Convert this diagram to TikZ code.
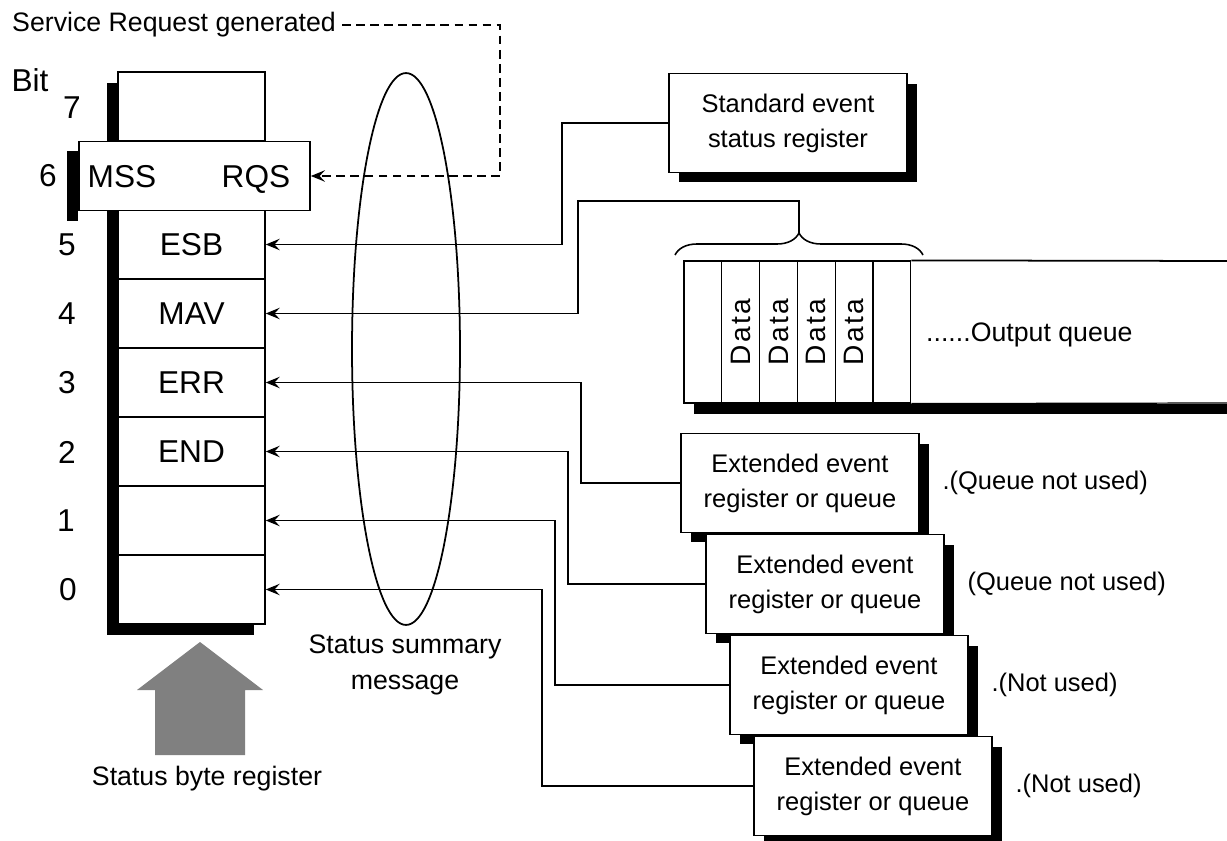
\documentclass[tikz,border=0pt]{standalone}
\usepackage{fontspec}
\setmainfont{Liberation Sans}
\usetikzlibrary{shapes.geometric,shadows,arrows.meta,decorations.pathreplacing,positioning}
\newcommand{\datatxt}{\rotatebox{90}{D\kern1.5pt a\kern1.5pt t\kern1.5pt a}}

\begin{document}
\begin{tikzpicture}[x=0.02cm, y=-0.02cm,
		>={Stealth[length=8pt, width=6.5pt, inset=3pt]},
		every node/.style={font=\fontsize{14.5}{20}\selectfont},
		big/.style={font=\fontsize{18}{22}\selectfont},
		lbl/.style={font=\fontsize{15.2}{20}\selectfont},
		sig/.style={->, line width=0.9pt},
		bitcell/.style={draw, line width=0.8pt, minimum width=2.94cm, minimum height=1.38cm, inner sep=0pt, big},
		regbox/.style={draw, fill=white, line width=1pt, align=center, minimum width=4.76cm, minimum height=1.98cm, general shadow={fill=black, shadow xshift=0.2cm, shadow yshift=-0.2cm}},
		qcell/.style={draw, line width=0.7pt, minimum width=0.756cm, minimum height=2.84cm, inner sep=0pt, font=\fontsize{16}{18}\selectfont}]
			\useasboundingbox (0,0) rectangle (1227,841);
			
			\node[draw, fill=white, line width=1pt, minimum width=2.94cm, minimum height=11.04cm, inner sep=0pt, general shadow={fill=black, shadow xshift=-0.22cm, shadow yshift=-0.22cm}] (sbr) at (191.5,348) {};
			\node[bitcell] (b7) at (191.5,106.5) {};
			\node[bitcell] (b5) at (191.5,244.5) {ESB};
			\node[bitcell] (b4) at (191.5,313.5) {MAV};
			\node[bitcell] (b3) at (191.5,382.5) {ERR};
			\node[bitcell] (b2) at (191.5,451.5) {END};
			\node[bitcell] (b1) at (191.5,520.5) {};
			\node[bitcell] (b0) at (191.5,589.5) {};
			
			\node[draw, fill=white, line width=1pt, minimum width=4.62cm, minimum height=1.38cm, inner sep=0pt] (b6) at (194.5,176) {};
			\node[big, anchor=base] (mss) at (122,188) {MSS};
			\node[big, anchor=base] (rqs) at (256,188) {RQS};
			\fill ([shift={(-11,10)}]b6.north west) rectangle ([shift={(0,10)}]b6.south west);
			
			\node[big] (bit) at (30,80) {Bit};
			\node[big] (n7) at (72,108) {7};
			\node[big] (n6) at (48,176) {6};
			\node[big] (n5) at (67,245) {5};
			\node[big] (n4) at (67,314) {4};
			\node[big] (n3) at (67,383) {3};
			\node[big] (n2) at (67,452) {2};
			\node[big] (n1) at (66,521) {1};
			\node[big] (n0) at (68,590) {0};
			
			\node[draw, ellipse, line width=1pt, minimum width=2.16cm, minimum height=11.04cm] (ssm) at (406,349) {};
			\node[lbl, align=center] (ssmlbl) at (405,665) {Status summary\\message};
			
			\fill[black!50] (200,642) -- (263,690) -- (245,690) -- (245,755) -- (155,755) -- (155,690) -- (137,690) -- cycle;
			\node[lbl] (sbrlbl) at (207,779) {Status byte register};
			
			\node[lbl, anchor=west] (srq) at (6,25) {Service Request generated};
			\coordinate (srqturn) at (500,176);
			\draw[sig, dash pattern=on 5pt off 3pt] (srq.east) -| (srqturn) -- (b6.east);
			
			\node[regbox] (std) at (788,123) {Standard event\\status register};
			\draw[sig] (std.west) -- ++(-106,0) |- (b5.east);
			
			\node[qcell] (q0) at (702.9,332) {};
			\node[qcell] (q1) at (740.7,332) {\datatxt};
			\node[qcell] (q2) at (778.5,332) {\datatxt};
			\node[qcell] (q3) at (816.3,332) {\datatxt};
			\node[qcell] (q4) at (854.1,332) {\datatxt};
			\node[qcell] (q5) at (891.9,332) {};
			\coordinate (qtopend) at (1227,261);
			\coordinate (qbotend) at (1227,403);
			\draw[line width=1pt] (q5.north east) -- (qtopend);
			\draw[line width=0.7pt] (q5.south east) -- (qbotend);
			\fill ([shift={(11,0)}]q0.south west) rectangle ([shift={(0,11)}]qbotend);
			\node[lbl, anchor=west] (oq) at (920,335) {......Output queue};
			
			\draw[line width=0.9pt, decorate, decoration={brace, amplitude=0.44cm}] (675,255) -- (923,255);
			\coordinate (qtip) at (799,233);
			\coordinate (mavturn) at (578,201);
			\draw[sig] (qtip) |- (mavturn) |- (b4.east);
			
			\node[regbox] (ext1) at (800,483) {Extended event\\register or queue};
			\node[regbox] (ext2) at (825,584) {Extended event\\register or queue};
			\node[regbox] (ext3) at (849,685) {Extended event\\register or queue};
			\node[regbox] (ext4) at (873,786) {Extended event\\register or queue};
			
			\node[right=0.33cm of ext1] (note1) {.(Queue not used)};
			\node[right=0.33cm of ext2] (note2) {(Queue not used)};
			\node[right=0.33cm of ext3] (note3) {.(Not used)};
			\node[right=0.33cm of ext4] (note4) {.(Not used)};
			
			\draw[sig] (ext1.west) -- ++(-99,0) |- (b3.east);
			\draw[sig] (ext2.west) -- ++(-137,0) |- (b2.east);
			\draw[sig] (ext3.west) -- ++(-174,0) |- (b1.east);
			\draw[sig] (ext4.west) -- ++(-211,0) |- (b0.east);
		\end{tikzpicture}
\end{document}
